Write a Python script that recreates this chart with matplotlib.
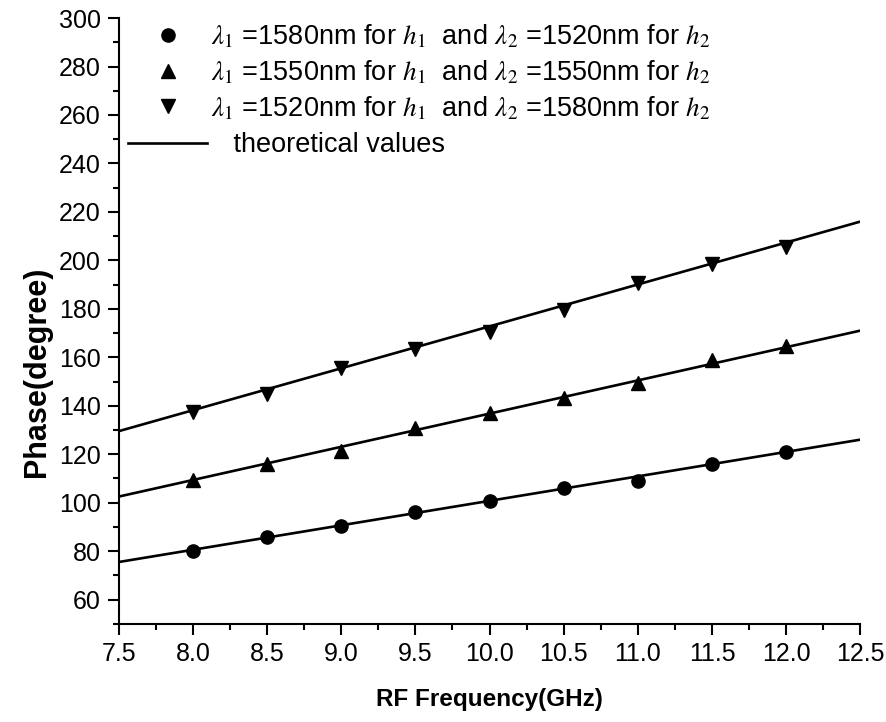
import matplotlib
matplotlib.use('Agg')
import matplotlib.pyplot as plt
from matplotlib.ticker import MultipleLocator, FormatStrFormatter
from matplotlib.lines import Line2D

plt.rcParams['font.family'] = ['Liberation Sans', 'DejaVu Sans']
plt.rcParams['mathtext.fontset'] = 'stix'

freq = [8.0, 8.5, 9.0, 9.5, 10.0, 10.5, 11.0, 11.5, 12.0]
phase_circle = [80, 86, 90.5, 96, 100.5, 106, 109, 116, 121]
phase_up = [109.5, 116, 121.5, 131, 137, 143, 149.5, 159, 164.5]
phase_down = [137.5, 145, 155.5, 163.5, 170.5, 179.5, 190.5, 198.5, 205.5]

# theoretical lines, end points at 7.5 and 12.5 GHz
theory_freq = [7.5, 12.5]
theory_circle = [75.5, 126]
theory_up = [102.5, 171]
theory_down = [129.5, 216]

labels = [r'$\lambda_1$ =1580nm for $h_1$  and $\lambda_2$ =1520nm for $h_2$',
          r'$\lambda_1$ =1550nm for $h_1$  and $\lambda_2$ =1550nm for $h_2$',
          r'$\lambda_1$ =1520nm for $h_1$  and $\lambda_2$ =1580nm for $h_2$']
theory_label = '   theoretical values'

fig = plt.figure(figsize=(8.86, 7.22), dpi=100)
ax = fig.add_axes([0.134, 0.136, 0.837, 0.839])

for yv in (theory_circle, theory_up, theory_down):
    ax.plot(theory_freq, yv, color='black', lw=1.9)

ax.plot(freq, phase_circle, 'o', color='black', ms=9.5)
ax.plot(freq, phase_up, '^', color='black', ms=10)
ax.plot(freq, phase_down, 'v', color='black', ms=10)

ax.set_xlim(7.5, 12.5)
ax.set_ylim(50, 300)
ax.xaxis.set_major_locator(MultipleLocator(0.5))
ax.xaxis.set_minor_locator(MultipleLocator(0.25))
ax.yaxis.set_minor_locator(MultipleLocator(10))
ax.set_yticks(range(60, 301, 20))
ax.xaxis.set_major_formatter(FormatStrFormatter('%.1f'))

ax.spines['top'].set_visible(False)
ax.spines['right'].set_visible(False)
ax.spines['left'].set_linewidth(1.5)
ax.spines['bottom'].set_linewidth(1.5)
ax.tick_params(which='major', direction='out', length=8, width=1.5, labelsize=18, pad=5)
ax.tick_params(which='minor', direction='out', length=4, width=1.5)

ax.set_xlabel('RF Frequency(GHz)', fontsize=17.5, fontweight='bold', labelpad=16)
ax.set_ylabel('Phase(degree)', fontsize=22, fontweight='bold')
ax.yaxis.set_label_coords(-0.09, 0.416)

handles = [Line2D([], [], ls='none', marker='o', color='black', ms=9.5),
           Line2D([], [], ls='none', marker='^', color='black', ms=10),
           Line2D([], [], ls='none', marker='v', color='black', ms=10)]
leg = ax.legend(handles, labels, loc='upper left', bbox_to_anchor=(0.013, 0.992),
                frameon=False, fontsize=19.5, handlelength=2.9, handletextpad=0.15,
                labelspacing=0.3, borderpad=0, borderaxespad=0)
ax.add_artist(leg)
ax.legend([Line2D([], [], color='black', lw=1.9)], [theory_label],
          loc='center left', bbox_to_anchor=(0.013, 0.790),
          frameon=False, fontsize=19.5, handlelength=2.9, handletextpad=0.15,
          borderpad=0, borderaxespad=0)

fig.savefig('out.png', dpi=100)
